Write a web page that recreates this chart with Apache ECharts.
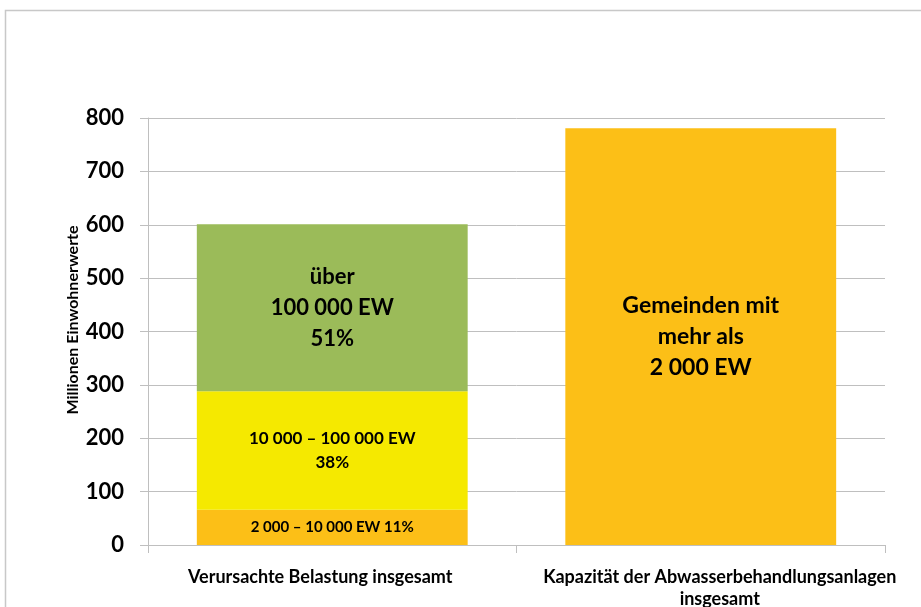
<!DOCTYPE html>
<html><head><meta charset="utf-8">
<script src="https://cdn.jsdelivr.net/npm/echarts@6/dist/echarts.min.js"></script>
<style>html,body{margin:0;padding:0;background:#fff}#c{width:921px;height:607px}</style>
</head><body><div id="c"></div>
<script>
const categories = ['Verursachte Belastung insgesamt', 'Kapazität der Abwasserbehandlungsanlagen\ninsgesamt'];
const small = [66, null];
const medium = [222, null];
const large = [313, null];
const capacity = [null, 781];
const labelSmall = '2 000 – 10 000 EW 11%';
const labelMedium = '10 000 – 100 000 EW\n38%';
const labelLarge = 'über\n100 000 EW\n51%';
const labelCapacity = 'Gemeinden mit\nmehr als\n2 000 EW';
const yAxisName = 'Millionen Einwohnerwerte';
const yTicks = {min: 0, max: 800, interval: 100};

const FONT = 'Lato';
const W = 'bold';
const chart = echarts.init(document.getElementById('c'));
function seg(name, data, color, label, size, lh) {
  return {
    name, type: 'bar', stack: 'a', data, barWidth: '73.5%',
    itemStyle: {color},
    label: {show: true, position: 'inside', formatter: label, color: '#000',
      fontFamily: FONT, fontWeight: W, fontSize: size, lineHeight: lh, align: 'center'}
  };
}
const catPads = [[0, 24, 0, 0], [0, 0, 0, 38]];
chart.setOption({
  animation: false,
  textStyle: {fontFamily: FONT},
  graphic: [
    {type: 'rect', shape: {x: 5.5, y: 10.5, width: 930, height: 620},
      style: {fill: 'none', stroke: '#C8C8C8', lineWidth: 1.5}},
    {type: 'text', x: 73, y: 320, rotation: Math.PI / 2,
      style: {text: yAxisName, fill: '#000', font: W + ' 16px ' + FONT, align: 'center', verticalAlign: 'middle'}}
  ],
  grid: {left: 148, right: 36, top: 118, bottom: 62, outerBoundsMode: 'none', containLabel: false},
  xAxis: {
    type: 'category',
    data: categories.map((c, i) => ({value: c, textStyle: {padding: catPads[i]}})),
    axisLine: {show: true, lineStyle: {color: '#BFBFBF', width: 1}},
    axisTick: {show: true, length: 8, lineStyle: {color: '#BFBFBF'}},
    axisLabel: {color: '#000', fontFamily: FONT, fontWeight: W, fontSize: 18, margin: 21, lineHeight: 22, interval: 0}
  },
  yAxis: {
    type: 'value', min: yTicks.min, max: yTicks.max, interval: yTicks.interval,
    axisLine: {show: true, lineStyle: {color: '#BFBFBF'}},
    axisTick: {show: true, length: 8, inside: false, lineStyle: {color: '#BFBFBF'}},
    splitLine: {lineStyle: {color: '#BFBFBF'}},
    axisLabel: {color: '#000', fontFamily: FONT, fontWeight: W, fontSize: 22, margin: 24}
  },
  series: [
    seg('small', small, '#FCBF17', labelSmall, 15, 18),
    seg('medium', medium, '#F5E900', labelMedium, 17, 24),
    seg('large', large, '#9BBB59', labelLarge, 22, 31),
    seg('capacity', capacity, '#FCBF17', labelCapacity, 23, 31)
  ]
});
</script></body></html>
